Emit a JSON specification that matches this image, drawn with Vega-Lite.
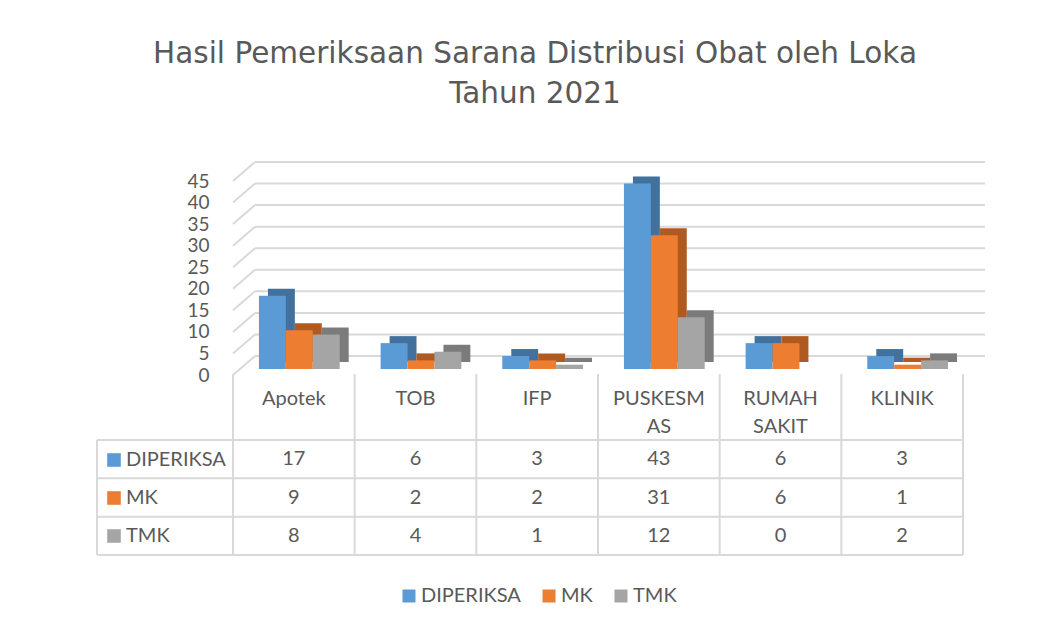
{
  "$schema": "https://vega.github.io/schema/vega-lite/v6.json",
  "width": 730,
  "height": 374,
  "autosize": {"type": "none"},
  "padding": {"left": 233, "top": 181, "right": 92, "bottom": 73},
  "background": "white",
  "config": {
    "font": "Lato",
    "view": {"stroke": null},
    "axis": {"labelFont": "Lato", "labelColor": "#595959", "labelFontSize": 20}
  },
  "title": {
    "text": ["Hasil Pemeriksaan Sarana Distribusi Obat oleh Loka", "Tahun 2021"],
    "font": "DejaVu Sans",
    "fontSize": 29.5,
    "fontWeight": "normal",
    "color": "#595959",
    "anchor": "middle",
    "frame": "group",
    "dx": -63,
    "offset": -105,
    "lineHeight": 40
  },
  "datasets": {
    "main": [
      {"cat": "Apotek", "series": "DIPERIKSA", "value": 17},
      {"cat": "Apotek", "series": "MK", "value": 9},
      {"cat": "Apotek", "series": "TMK", "value": 8},
      {"cat": "TOB", "series": "DIPERIKSA", "value": 6},
      {"cat": "TOB", "series": "MK", "value": 2},
      {"cat": "TOB", "series": "TMK", "value": 4},
      {"cat": "IFP", "series": "DIPERIKSA", "value": 3},
      {"cat": "IFP", "series": "MK", "value": 2},
      {"cat": "IFP", "series": "TMK", "value": 1},
      {"cat": "PUSKESMAS", "series": "DIPERIKSA", "value": 43},
      {"cat": "PUSKESMAS", "series": "MK", "value": 31},
      {"cat": "PUSKESMAS", "series": "TMK", "value": 12},
      {"cat": "RUMAH SAKIT", "series": "DIPERIKSA", "value": 6},
      {"cat": "RUMAH SAKIT", "series": "MK", "value": 6},
      {"cat": "RUMAH SAKIT", "series": "TMK", "value": 0},
      {"cat": "KLINIK", "series": "DIPERIKSA", "value": 3},
      {"cat": "KLINIK", "series": "MK", "value": 1},
      {"cat": "KLINIK", "series": "TMK", "value": 2}
    ],
    "ticks": [{"v": 0}, {"v": 5}, {"v": 10}, {"v": 15}, {"v": 20}, {"v": 25}, {"v": 30}, {"v": 35}, {"v": 40}, {"v": 45}],
    "cats": [{"cat": "Apotek"}, {"cat": "TOB"}, {"cat": "IFP"}, {"cat": "PUSKESMAS"}, {"cat": "RUMAH SAKIT"}, {"cat": "KLINIK"}],
    "rows": [{"series": "DIPERIKSA"}, {"series": "MK"}, {"series": "TMK"}]
  },
  "data": {"name": "main"},
  "layer": [
    {
      "layer": [
        {
          "mark": {"type": "bar", "opacity": 0},
          "encoding": {
            "x": {
              "field": "cat", "type": "nominal",
              "scale": {"type": "band", "domain": ["Apotek", "TOB", "IFP", "PUSKESMAS", "RUMAH SAKIT", "KLINIK"], "paddingInner": 0, "paddingOuter": 0},
              "axis": {
                "orient": "bottom", "offset": -181, "title": null, "domain": false, "ticks": false, "grid": false,
                "labelAngle": 0, "labelPadding": 14, "labelLineHeight": 28, "labelFontSize": 20,
                "labelExpr": "datum.label == 'PUSKESMAS' ? ['PUSKESM', 'AS'] : datum.label == 'RUMAH SAKIT' ? ['RUMAH', 'SAKIT'] : datum.label"
              }
            },
            "y": {
              "field": "value", "type": "quantitative",
              "scale": {"domain": [0, 45], "range": [194, 0], "nice": false, "zero": true},
              "axis": {"values": [0, 5, 10, 15, 20, 25, 30, 35, 40, 45], "title": null, "domain": false, "ticks": false, "grid": false, "labelPadding": 24, "labelOverlap": false, "labelFontSize": 19}
            }
          }
        },
        {
          "data": {"name": "ticks"},
          "mark": {"type": "rule", "color": "#d9d9d9", "strokeWidth": 2, "xOffset": 22, "x2Offset": 22, "yOffset": -19, "y2Offset": -19},
          "encoding": {
            "y": {"field": "v", "type": "quantitative"},
            "x": {"datum": "Apotek", "bandPosition": 0},
            "x2": {"datum": "KLINIK", "bandPosition": 1}
          }
        },
        {
          "data": {"name": "ticks"},
          "mark": {"type": "rule", "color": "#d9d9d9", "strokeWidth": 2, "x2Offset": 22, "y2Offset": -19},
          "encoding": {
            "y": {"field": "v", "type": "quantitative"},
            "y2": {"field": "v"},
            "x": {"datum": "Apotek", "bandPosition": 0},
            "x2": {"datum": "Apotek", "bandPosition": 0}
          }
        },
        {
          "mark": {"type": "bar", "yOffset": -13, "y2Offset": -13},
          "encoding": {
            "x": {"field": "cat", "type": "nominal"},
            "xOffset": {"field": "series", "type": "nominal", "scale": {"domain": ["DIPERIKSA", "MK", "TMK"], "paddingInner": 0, "paddingOuter": 0.76, "align": 0.854}},
            "y": {"field": "value", "type": "quantitative"},
            "y2": {"datum": 0},
            "color": {"field": "series", "type": "nominal", "scale": {"domain": ["DIPERIKSA", "MK", "TMK"], "range": ["#41719c", "#ae5a21", "#7b7b7b"]}, "legend": null}
          }
        },
        {
          "mark": {"type": "bar", "yOffset": -6, "y2Offset": -6},
          "encoding": {
            "x": {"field": "cat", "type": "nominal"},
            "xOffset": {"field": "series", "type": "nominal", "scale": {"domain": ["DIPERIKSA", "MK", "TMK"], "paddingInner": 0, "paddingOuter": 0.76, "align": 0.634}},
            "y": {"field": "value", "type": "quantitative"},
            "y2": {"datum": 0},
            "color": {
              "field": "series", "type": "nominal",
              "scale": {"domain": ["DIPERIKSA", "MK", "TMK"], "range": ["#5b9bd5", "#ed7d31", "#a5a5a5"]},
              "legend": {
                "orient": "none", "legendX": 166, "legendY": 405, "direction": "horizontal", "title": null,
                "symbolType": "square", "symbolSize": 169, "symbolStrokeWidth": 0, "labelFontSize": 20, "labelFont": "Lato",
                "labelColor": "#595959", "labelOffset": 2, "columnPadding": 18, "padding": 0
              }
            }
          }
        }
      ],
      "resolve": {"scale": {"color": "independent", "xOffset": "independent"}}
    },
    {
      "layer": [
        {
          "mark": {"type": "text", "fontSize": 20, "color": "#595959", "font": "Lato"},
          "encoding": {
            "x": {"field": "cat", "type": "nominal"},
            "y": {
              "field": "series", "type": "nominal",
              "scale": {"type": "band", "domain": ["DIPERIKSA", "MK", "TMK"], "range": [259, 374], "paddingInner": 0, "paddingOuter": 0},
              "axis": null
            },
            "text": {"field": "value", "type": "quantitative"}
          }
        },
        {
          "mark": {"type": "bar", "opacity": 0},
          "encoding": {
            "x": {"field": "cat", "type": "nominal"},
            "y": {"field": "series", "type": "nominal"},
            "color": {
              "field": "series", "type": "nominal",
              "scale": {"domain": ["DIPERIKSA", "MK", "TMK"], "range": ["#5b9bd5", "#ed7d31", "#a5a5a5"]},
              "legend": {
                "orient": "none", "legendX": -129, "legendY": 269, "direction": "vertical", "title": null,
                "symbolType": "square", "symbolSize": 185, "symbolOpacity": 1, "symbolStrokeWidth": 0,
                "labelFontSize": 20, "labelFont": "Lato", "labelColor": "#595959", "labelOffset": 2, "rowPadding": 18, "padding": 0
              }
            }
          }
        },
        {
          "data": {"name": "rows"},
          "mark": {"type": "rule", "color": "#d9d9d9", "strokeWidth": 2, "xOffset": -136},
          "encoding": {
            "y": {"field": "series", "type": "nominal", "bandPosition": 0},
            "x": {"datum": "Apotek", "bandPosition": 0},
            "x2": {"datum": "KLINIK", "bandPosition": 1}
          }
        },
        {
          "data": {"name": "rows"},
          "mark": {"type": "rule", "color": "#d9d9d9", "strokeWidth": 2, "xOffset": -136},
          "encoding": {
            "y": {"datum": "TMK", "bandPosition": 1},
            "x": {"datum": "Apotek", "bandPosition": 0},
            "x2": {"datum": "KLINIK", "bandPosition": 1}
          }
        },
        {
          "data": {"name": "cats"},
          "mark": {"type": "rule", "color": "#d9d9d9", "strokeWidth": 2, "yOffset": -66},
          "encoding": {
            "x": {"field": "cat", "type": "nominal", "bandPosition": 0},
            "y": {"datum": "DIPERIKSA", "bandPosition": 0},
            "y2": {"datum": "TMK", "bandPosition": 1}
          }
        },
        {
          "data": {"name": "rows"},
          "mark": {"type": "rule", "color": "#d9d9d9", "strokeWidth": 2, "yOffset": -66},
          "encoding": {
            "x": {"datum": "KLINIK", "bandPosition": 1},
            "y": {"datum": "DIPERIKSA", "bandPosition": 0},
            "y2": {"datum": "TMK", "bandPosition": 1}
          }
        },
        {
          "data": {"name": "rows"},
          "mark": {"type": "rule", "color": "#d9d9d9", "strokeWidth": 2, "xOffset": -136},
          "encoding": {
            "x": {"datum": "Apotek", "bandPosition": 0},
            "y": {"datum": "DIPERIKSA", "bandPosition": 0},
            "y2": {"datum": "TMK", "bandPosition": 1}
          }
        }
      ]
    }
  ],
  "resolve": {"scale": {"y": "independent", "color": "independent"}}
}
